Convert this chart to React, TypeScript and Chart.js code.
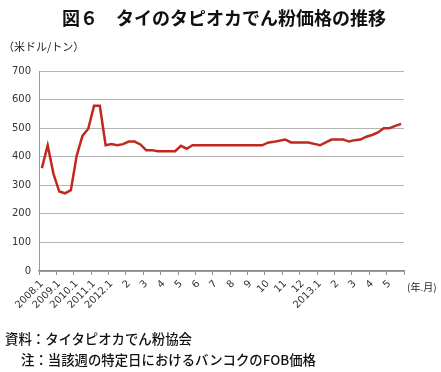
import React, { useEffect, useRef } from 'react';
import { Chart, registerables } from 'chart.js';

Chart.register(...registerables);

// Axis tick labels (one per group of 3 observations)
const xLabels = ['2008.1', '2009.1', '2010.1', '2011.1', '2012.1', '2', '3', '4', '5', '6', '7', '8', '9', '10', '11', '12', '2013.1', '2', '3', '4', '5'];
const pointsPerLabel = 3;

// Tapioca starch price (US$/ton)
const prices = [
  360, 440, 340, 278, 272, 283, 403, 473, 498, 578, 578,
  440, 444, 440, 444, 453, 453, 443, 423, 423, 419, 419, 419, 419, 438, 428,
  440, 440, 440, 440, 440, 440, 440, 440, 440, 440, 440, 440, 440,
  449, 452, 456, 460, 450, 450, 450, 450, 445, 440, 450, 460, 460, 460, 453, 458, 460, 470, 476, 485, 500, 500, 508, 515,
];

const yMin = 0;
const yMax = 700;
const yStep = 100;

const title = '図６　タイのタピオカでん粉価格の推移';
const yUnit = '（米ドル/トン）';
const xUnit = '(年.月)';
const source = '資料：タイタピオカでん粉協会';
const note = '注：当該週の特定日におけるバンコクのFOB価格';

const jp = '"Noto Sans CJK JP", "Noto Sans", sans-serif';
const tickFont = { family: '"DejaVu Sans", sans-serif', size: 10 };

export default function App() {
  const ref = useRef<HTMLCanvasElement | null>(null);

  useEffect(() => {
    if (!ref.current) return;
    const labels = prices.map((_, i) => (i % pointsPerLabel === 0 ? xLabels[i / pointsPerLabel] ?? '' : ''));
    const chart = new Chart(ref.current, {
      type: 'line',
      data: {
        labels,
        datasets: [
          {
            data: prices,
            borderColor: '#c0291e',
            borderWidth: 2.5,
            pointRadius: 0,
            tension: 0,
            fill: false,
          },
        ],
      },
      options: {
        animation: false,
        responsive: false,
        maintainAspectRatio: false,
        layout: { padding: { top: 71, right: 37, left: 0, bottom: 0 } },
        plugins: {
          legend: { display: false },
          tooltip: { enabled: false },
          title: { display: false },
        },
        scales: {
          x: {
            type: 'category',
            offset: true,
            grid: {
              offset: true,
              drawOnChartArea: false,
              drawTicks: true,
              tickLength: 4,
              lineWidth: 1,
              color: (ctx: any) =>
                ctx.type !== 'tick' || ctx.index % pointsPerLabel === 0 ? '#8a8a8a' : 'rgba(0,0,0,0)',
            },
            border: { display: true, color: '#8a8a8a', width: 1.5 },
            ticks: {
              autoSkip: false,
              maxRotation: 45,
              minRotation: 45,
              padding: 3,
              color: '#333',
              font: tickFont,
            },
            afterFit: (s: any) => {
              s.height = 101;
            },
          },
          y: {
            min: yMin,
            max: yMax,
            ticks: { stepSize: yStep, padding: 8, color: '#333', font: tickFont },
            grid: { color: '#b4b4b4', lineWidth: 1, drawTicks: false },
            border: { display: true, color: '#9a9a9a', width: 1 },
            afterFit: (s: any) => {
              s.width = 39;
            },
          },
        },
      },
    });
    return () => chart.destroy();
  }, []);

  const abs = (extra: React.CSSProperties): React.CSSProperties => ({
    position: 'absolute',
    whiteSpace: 'nowrap',
    fontFamily: jp,
    color: '#111',
    margin: 0,
    ...extra,
  });

  return (
    <div style={{ position: 'absolute', left: 0, top: 0, width: 441, height: 372, background: '#fff', overflow: 'hidden' }}>
      <canvas ref={ref} width={441} height={372} style={{ position: 'absolute', left: 0, top: 0, width: 441, height: 372 }} />
      <div style={abs({ left: 62, top: 8, fontSize: 18, lineHeight: '18px', fontWeight: 'bold' })}>{title}</div>
      <div style={abs({ left: 3, top: 41, fontSize: 11, lineHeight: '11px', color: '#222' })}>{yUnit}</div>
      <div style={abs({ left: 407, top: 282, fontSize: 10, lineHeight: '10px', color: '#222' })}>{xUnit}</div>
      <div style={abs({ left: 5, top: 332, fontSize: 13.4, lineHeight: '13px', fontWeight: 500 })}>{source}</div>
      <div style={abs({ left: 21, top: 353, fontSize: 13.4, lineHeight: '13px', fontWeight: 500 })}>{note}</div>
    </div>
  );
}
